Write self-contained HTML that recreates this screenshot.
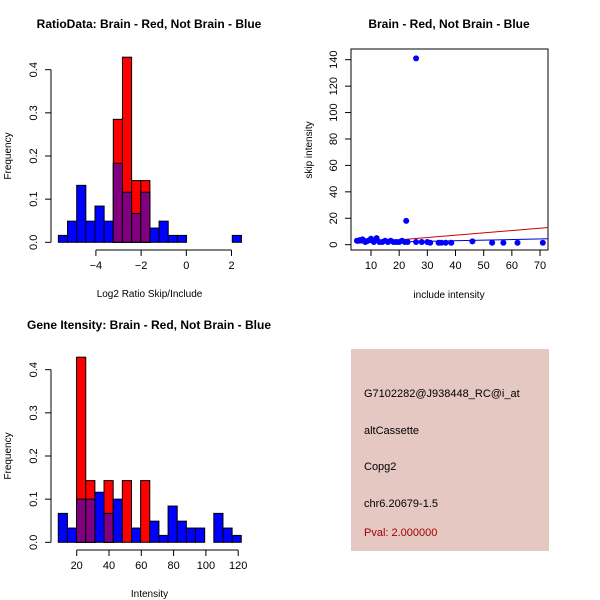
<!DOCTYPE html>
<html><head><meta charset="utf-8"><style>
html,body{margin:0;padding:0;background:#fff;}
svg{display:block;font-family:"Liberation Sans",sans-serif;}
</style></head><body>
<svg id="c" width="600" height="600" xmlns="http://www.w3.org/2000/svg">
<rect width="600" height="600" fill="#fff"/>
<g id="p1"></g>
<g id="p2"></g>
<g id="p3"></g>
<g>
<rect x="351" y="349" width="198" height="202" fill="#e6c8c2"/>
<text x="364" y="397" font-size="11" fill="#000">G7102282@J938448_RC@i_at</text>
<text x="364" y="434" font-size="11" fill="#000">altCassette</text>
<text x="364" y="470" font-size="11" fill="#000">Copg2</text>
<text x="364" y="507" font-size="11" fill="#000">chr6.20679-1.5</text>
<text x="364" y="536" font-size="11" fill="#a00000">Pval: 2.000000</text>
</g>
</svg>
<script>
const ratioBlue=[0.016,0.049,0.132,0.049,0.084,0.049,0.183,0.116,0.067,0.116,0.033,0.049,0.016,0.016,0,0,0,0,0,0.016];
const ratioRed=[0,0,0,0,0,0,0.285,0.429,0.143,0.143,0,0,0,0,0,0,0,0,0,0];
const ratioStart=-5.66, ratioWidth=0.405;
const ratioXTicks=[-4,-2,0,2];
const geneBlue=[0.067,0.033,0.1,0.1,0.116,0.067,0.1,0,0.033,0,0.049,0.016,0.084,0.049,0.033,0.033,0,0.067,0.033,0.016];
const geneRed=[0,0,0.429,0.143,0,0.143,0,0.143,0,0.143,0,0,0,0,0,0,0,0,0,0];
const geneStart=8.6, geneWidth=5.665;
const geneXTicks=[20,40,60,80,100,120];
const freqTicks=[0,0.1,0.2,0.3,0.4];
const scatterX=[5,6,7,7.5,8,9,10,11,12,13,14,15,16,17,18,19,20,21,22,22.5,23,26,26,28,30,31,34,35,36.5,38.5,46,53,57,62,71];
const scatterY=[3,3.5,4,3,2,3,4.5,2,5,2,2,3,2,3,2,2,2,3,2,18,2,141,2,2,2,1.5,1.5,1.5,1.5,1.5,2.5,1.5,1.5,1.5,1.5];
const scatterXTicks=[10,20,30,40,50,60,70];
const scatterYTicks=[0,20,40,60,80,100,120,140];
const redLine=[[5,1],[73,13]];
const blueLine=[[5,1.5],[73,4.5]];

const NS="http://www.w3.org/2000/svg";
function mk(parent,tag,attrs,name,txt){const e=document.createElementNS(NS,tag);for(const k in attrs)e.setAttribute(k,attrs[k]);


if(txt!==undefined)e.textContent=txt;parent.appendChild(e);return e;}

function hist(g,blue,red,start,w,xTicks,sx,sy,axisX,axisY,title,titleY,xlab){
  for(let i=0;i<blue.length;i++){
    const x0=sx(start+i*w),x1=sx(start+(i+1)*w);
    if(blue[i]>0) mk(g,'rect',{x:x0,y:sy(blue[i]),width:x1-x0,height:sy(0)-sy(blue[i]),fill:'#0000ff',stroke:'#000','stroke-width':1},'blue-bar');
    if(red[i]>0) mk(g,'rect',{x:x0,y:sy(red[i]),width:x1-x0,height:sy(0)-sy(red[i]),fill:'#ff0000',stroke:'#000','stroke-width':1},'red-bar');
    const m=Math.min(blue[i],red[i]);
    if(m>0) mk(g,'rect',{x:x0,y:sy(m),width:x1-x0,height:sy(0)-sy(m),fill:'#800080',stroke:'#000','stroke-width':1},'overlap-bar');
  }
  mk(g,'line',{x1:axisX,x2:axisX,y1:sy(0),y2:sy(0.4),stroke:'#000'},'y-axis');
  freqTicks.forEach(t=>{const y=sy(t);
    mk(g,'line',{x1:axisX-6,x2:axisX,y1:y,y2:y,stroke:'#000'},'y-tick');
    mk(g,'text',{x:axisX-14,y:y,'font-size':11,'text-anchor':'middle',transform:`rotate(-90 ${axisX-14} ${y})`},'y-tick-label',t.toFixed(1));});
  mk(g,'line',{x1:sx(xTicks[0]),x2:sx(xTicks[xTicks.length-1]),y1:axisY,y2:axisY,stroke:'#000'},'x-axis');
  xTicks.forEach(t=>{const x=sx(t);
    mk(g,'line',{x1:x,x2:x,y1:axisY,y2:axisY+6,stroke:'#000'},'x-tick');
    mk(g,'text',{x:x,y:axisY+19,'font-size':11,'text-anchor':'middle'},'x-tick-label',String(t).replace('-','\u2212'));});
  mk(g,'text',{x:11,y:(sy(0)+sy(0.4))/2,'font-size':10,'text-anchor':'middle',transform:`rotate(-90 11 ${(sy(0)+sy(0.4))/2})`},'y-axis-title','Frequency');
  mk(g,'text',{x:(axisX+248)/2,y:axisY+47,'font-size':10,'text-anchor':'middle'},'x-axis-title',xlab);
  mk(g,'text',{x:149,y:titleY,'font-size':12,'font-weight':'bold','text-anchor':'middle'},'chart-title',title);
}
const p1=document.getElementById('p1');
hist(p1,ratioBlue,ratioRed,ratioStart,ratioWidth,ratioXTicks,v=>186.3+v*22.6,v=>242.3-v*431.5,51,250,'RatioData: Brain - Red, Not Brain - Blue',28,'Log2 Ratio Skip/Include');
const p3=document.getElementById('p3');
hist(p3,geneBlue,geneRed,geneStart,geneWidth,geneXTicks,v=>76.7+(v-20)*1.615,v=>542.3-v*431.5,51,550,'Gene Itensity: Brain - Red, Not Brain - Blue',329,'Intensity');

const p2=document.getElementById('p2');
const sx=v=>371+(v-10)*2.817, sy=v=>244.7-v*1.3214;
mk(p2,'rect',{x:351,y:49,width:197,height:201,fill:'none',stroke:'#000'},'plot-frame');
mk(p2,'line',{x1:sx(redLine[0][0]),y1:sy(redLine[0][1]),x2:sx(redLine[1][0]),y2:sy(redLine[1][1]),stroke:'#cc0000'},'red-fit-line');
mk(p2,'line',{x1:sx(blueLine[0][0]),y1:sy(blueLine[0][1]),x2:sx(blueLine[1][0]),y2:sy(blueLine[1][1]),stroke:'#0000cc'},'blue-fit-line');
for(let i=0;i<scatterX.length;i++) mk(p2,'circle',{cx:sx(scatterX[i]),cy:sy(scatterY[i]),r:3,fill:'#0000ff'},'scatter-point');
scatterXTicks.forEach(t=>{const x=sx(t);
  mk(p2,'line',{x1:x,x2:x,y1:250,y2:256,stroke:'#000'},'x-tick');
  mk(p2,'text',{x:x,y:269,'font-size':11,'text-anchor':'middle'},'x-tick-label',String(t));});
scatterYTicks.forEach(t=>{const y=sy(t);
  mk(p2,'line',{x1:345,x2:351,y1:y,y2:y,stroke:'#000'},'y-tick');
  mk(p2,'text',{x:337,y:y,'font-size':11,'text-anchor':'middle',transform:`rotate(-90 337 ${y})`},'y-tick-label',String(t));});
mk(p2,'text',{x:449,y:298,'font-size':10,'text-anchor':'middle'},'x-axis-title','include intensity');
mk(p2,'text',{x:312,y:150,'font-size':10,'text-anchor':'middle',transform:'rotate(-90 312 150)'},'y-axis-title','skip intensity');
mk(p2,'text',{x:449,y:28,'font-size':12,'font-weight':'bold','text-anchor':'middle'},'chart-title','Brain - Red, Not Brain - Blue');
</script>
</body></html>
